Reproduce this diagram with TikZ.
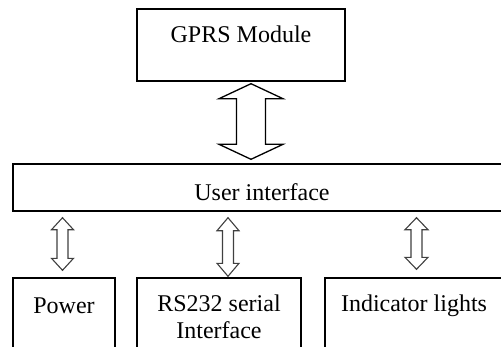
\documentclass[tikz,border=0pt]{standalone}
\usepackage{fontspec}
\setmainfont{Liberation Serif}
\usetikzlibrary{calc}
\tikzset{
  box/.style={draw=black, line width=1.4pt, rectangle, inner sep=0pt},
  lbl/.style={font=\fontsize{24}{27}\selectfont, inner sep=0pt, anchor=center},
  bigarr/.style={draw=black, line width=1.3pt, line join=miter, fill=white},
  smallarr/.style={draw=black!75, line width=1.1pt, line join=miter, fill=white},
}
% #1 style, #2 top point, #3 bottom point, #4 head half width, #5 shaft half width, #6 head length
\newcommand\dblarrow[6]{%
  \draw[#1] let \p1=#2, \p2=#3 in
    (\x1,\y1) -- ({\x1+#4},{\y1-#6}) -- ({\x1+#5},{\y1-#6}) -- ({\x1+#5},{\y2+#6})
    -- ({\x1+#4},{\y2+#6}) -- (\x1,\y2) -- ({\x1-#4},{\y2+#6}) -- ({\x1-#5},{\y2+#6})
    -- ({\x1-#5},{\y1-#6}) -- ({\x1-#4},{\y1-#6}) -- cycle;}
\begin{document}
\begin{tikzpicture}[x=1pt,y=-1pt]
\useasboundingbox[fill=white] (0,0) rectangle (501,346);
\clip (0,0) rectangle (501,346);
% boxes
\node[box, minimum width=208pt, minimum height=72pt] (gprs) at (241,45) {};
\node[lbl] (gprst) at (241,34) {GPRS Module};
\node[box, minimum width=507pt, minimum height=47pt] (ui) at (266.5,187.5) {};
\node[lbl] (uit) at (262,192) {User interface};
\node[box, minimum width=102pt, minimum height=82pt] (power) at (64,319) {};
\node[box, minimum width=164pt, minimum height=82pt] (rs) at (219,319) {};
\node[box, minimum width=195pt, minimum height=82pt] (ind) at (422.5,319) {};
\node[lbl] (powert) at (64,306) {Power};
\node[lbl, align=center] (rst) at (219,317) {RS232 serial\\[0pt]Interface};
\node[lbl] (indt) at (414,306) {Indicator lights};
% connectors
\coordinate (a1t) at ($(gprs.south)+(10,2)$);
\coordinate (a1b) at ($(ui.north -| a1t)+(0,-4)$);
\dblarrow{bigarr}{(a1t)}{(a1b)}{32pt}{14.5pt}{15pt}
\coordinate (a2t) at ($(ui.south -| power.north)+(-1.5,6)$);
\coordinate (a2b) at ($(power.north)+(-1.5,-7)$);
\dblarrow{smallarr}{(a2t)}{(a2b)}{11pt}{5.5pt}{12pt}
\coordinate (a3t) at ($(ui.south -| rs.north)+(9,6)$);
\coordinate (a3b) at ($(rs.north)+(9,-1)$);
\dblarrow{smallarr}{(a3t)}{(a3b)}{11pt}{5.5pt}{13pt}
\coordinate (a4t) at ($(ui.south -| ind.north)+(-6,6)$);
\coordinate (a4b) at ($(ind.north)+(-6,-8)$);
\dblarrow{smallarr}{(a4t)}{(a4b)}{11.5pt}{5.5pt}{12pt}
\end{tikzpicture}
\end{document}
